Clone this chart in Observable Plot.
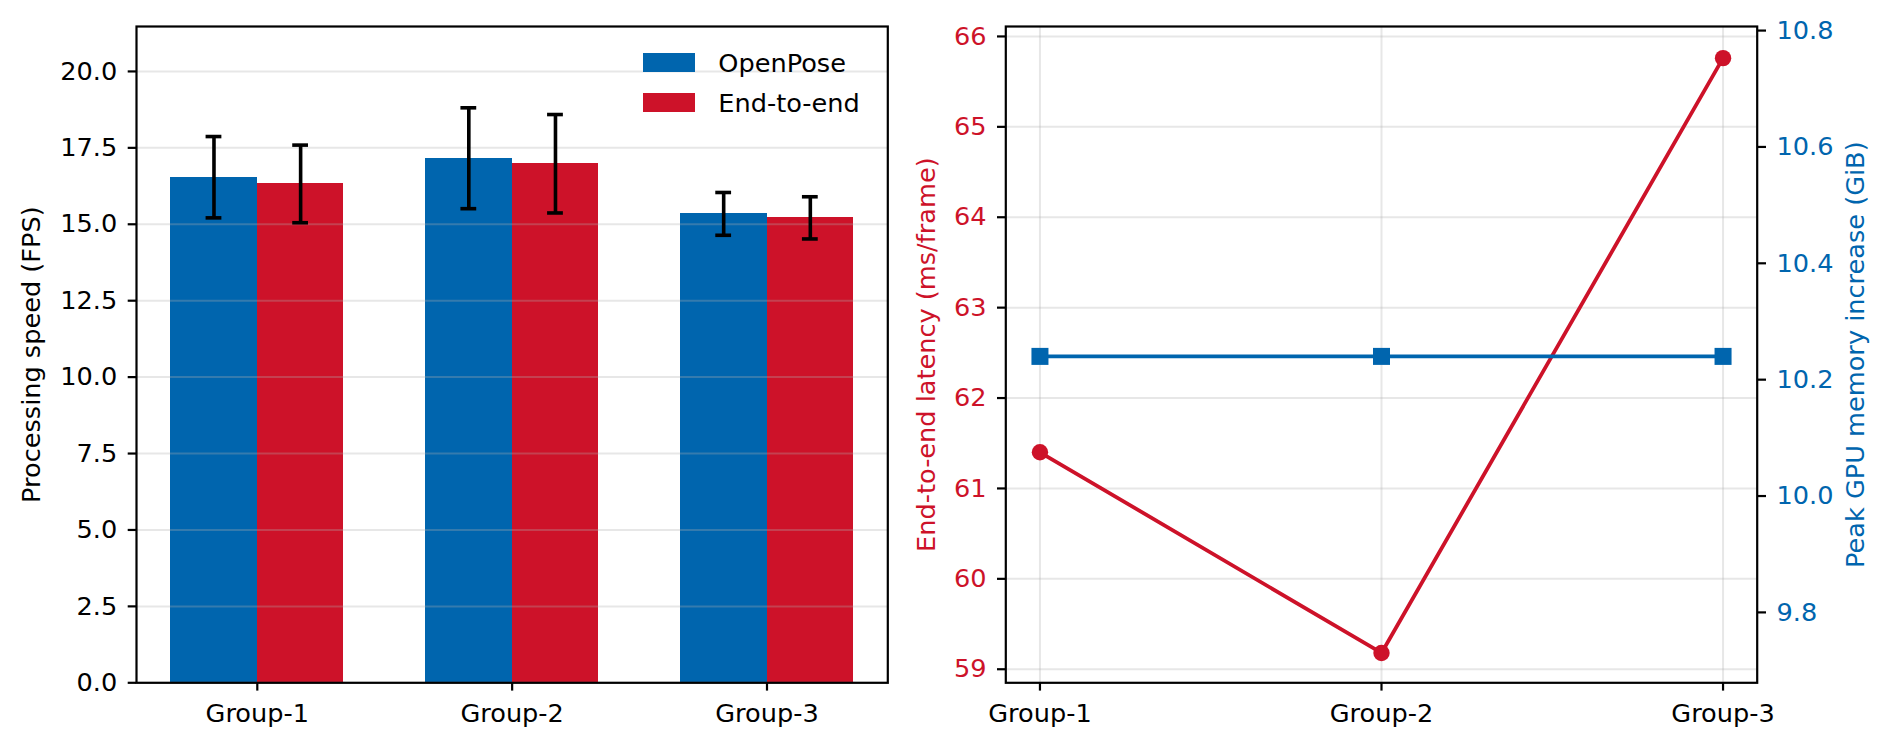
<!DOCTYPE html>
<html>
<head>
<meta charset="utf-8">
<script src="https://cdn.jsdelivr.net/npm/d3@7"></script>
<script src="https://cdn.jsdelivr.net/npm/@observablehq/plot@0.6"></script>
<style>
  body { margin: 0; background: #fff; }
  #wrap { position: relative; width: 1892px; height: 748px; font-family: "DejaVu Sans", sans-serif; overflow: hidden; }
  #wrap svg { position: absolute; top: 0; overflow: visible; }
  .legrow { position: absolute; display: flex; align-items: center; height: 30px; font-size: 25.6px; color: #000; white-space: nowrap; }
  .legrow .sw { width: 52px; height: 18.4px; margin-right: 23px; }
</style>
</head>
<body>
<div id="wrap"></div>
<script>
// ---- data ----
const groups = ["Group-1", "Group-2", "Group-3"];
const series = ["OpenPose", "End-to-end"];
const openposeFps = [16.54, 17.16, 15.34];
const openposeErr = [1.33, 1.65, 0.70];
const e2eFps = [16.32, 16.98, 15.21];
const e2eErr = [1.27, 1.61, 0.69];
const latency = [61.40, 59.18, 65.76];
const gpuMem = [10.24, 10.24, 10.24];
const fpsTicks = [0, 2.5, 5, 7.5, 10, 12.5, 15, 17.5, 20];
const latTicks = [59, 60, 61, 62, 63, 64, 65, 66];
const memTicks = [9.8, 10.0, 10.2, 10.4, 10.6, 10.8];
const fpsLabel = "Processing speed (FPS)";
const latLabel = "End-to-end latency (ms/frame)";
const memLabel = "Peak GPU memory increase (GiB)";

// ---- style ----
const BLUE = "#0065ae";
const RED = "#cd1229";
const GRID = { stroke: "#b0b0b0", strokeOpacity: 0.3, strokeWidth: 2 };
const FS = 25.6;
const BW = 0.34, CAP = 0.031;
const styleBase = { fontFamily: "DejaVu Sans", fontSize: FS + "px", background: "transparent", overflow: "visible" };

const rows = [];
groups.forEach((g, i) => {
  rows.push({ gi: i, si: 0, series: series[0], value: openposeFps[i], err: openposeErr[i] });
  rows.push({ gi: i, si: 1, series: series[1], value: e2eFps[i], err: e2eErr[i] });
});
const cx = d => d.gi + (d.si - 0.5) * BW;
const idx = [0, 1, 2];

const leftPlot = Plot.plot({
  width: 900, height: 748,
  marginLeft: 136, marginRight: 12.7, marginTop: 26, marginBottom: 65.7,
  style: styleBase,
  x: { domain: [-0.474, 2.474], axis: null },
  y: { domain: [0, 21.47], axis: null },
  color: { domain: series, range: [BLUE, RED] },
  marks: [
    Plot.rect(rows, { x1: d => d.gi + (d.si - 1) * BW, x2: d => d.gi + d.si * BW, y1: 0, y2: "value", fill: "series", shapeRendering: "crispEdges" }),
    Plot.gridY(fpsTicks, GRID),
    Plot.ruleX(rows, { x: cx, y1: d => d.value - d.err, y2: d => d.value + d.err, stroke: "black", strokeWidth: 3.6 }),
    Plot.ruleY(rows, { y: d => d.value + d.err, x1: d => cx(d) - CAP, x2: d => cx(d) + CAP, stroke: "black", strokeWidth: 3.6 }),
    Plot.ruleY(rows, { y: d => d.value - d.err, x1: d => cx(d) - CAP, x2: d => cx(d) + CAP, stroke: "black", strokeWidth: 3.6 }),
    Plot.frame({ stroke: "black", strokeWidth: 2.2 }),
    Plot.axisY(fpsTicks, { anchor: "left", tickSize: 8.3, tickPadding: 11, tickFormat: d3.format(".1f"), strokeWidth: 2.2, fontSize: FS, label: null, stroke: "black", fill: "black" }),
    Plot.axisX(idx, { anchor: "bottom", tickSize: 8.3, tickPadding: 13, tickFormat: i => groups[i], strokeWidth: 2.2, fontSize: FS, label: null, stroke: "black", fill: "black" }),
    Plot.text([fpsLabel], { text: d => d, frameAnchor: "left", dx: -104.3, rotate: -90, fontSize: FS, textAnchor: "middle", lineAnchor: "middle", fill: "black" })
  ]
});
leftPlot.style.left = "0px";

const latRows = latency.map((v, i) => ({ gi: i, v }));
const memRows = gpuMem.map((v, i) => ({ gi: i, v }));

const rightA = Plot.plot({
  width: 992, height: 748,
  marginLeft: 105.3, marginRight: 135.3, marginTop: 26, marginBottom: 65.7,
  style: styleBase,
  x: { domain: [-0.1, 2.1], axis: null },
  y: { domain: [58.85, 66.11], axis: null },
  marks: [
    Plot.gridX(idx, GRID),
    Plot.gridY(latTicks, GRID),
    Plot.frame({ stroke: "black", strokeWidth: 2.2 }),
    Plot.axisY(latTicks, { anchor: "left", tickSize: 8.3, tickPadding: 11, tickFormat: d3.format("d"), strokeWidth: 2.2, fontSize: FS, label: null, stroke: "black", fill: RED }),
    Plot.axisX(idx, { anchor: "bottom", tickSize: 8.3, tickPadding: 13, tickFormat: i => groups[i], strokeWidth: 2.2, fontSize: FS, label: null, stroke: "black", fill: "black" }),
    Plot.line(latRows, { x: "gi", y: "v", stroke: RED, strokeWidth: 3.8 }),
    Plot.dot(latRows, { x: "gi", y: "v", r: 8.2, fill: RED, stroke: "none" }),
    Plot.text([latLabel], { text: d => d, frameAnchor: "left", dx: -79.3, rotate: -90, fontSize: FS, textAnchor: "middle", lineAnchor: "middle", fill: RED })
  ]
});
rightA.style.left = "900px";

const rightB = Plot.plot({
  width: 992, height: 748,
  marginLeft: 105.3, marginRight: 135.3, marginTop: 26, marginBottom: 65.7,
  style: styleBase,
  x: { domain: [-0.1, 2.1], axis: null },
  y: { domain: [9.679, 10.807], axis: null },
  marks: [
    Plot.line(memRows, { x: "gi", y: "v", stroke: BLUE, strokeWidth: 3.8 }),
    Plot.dot(memRows, { x: "gi", y: "v", symbol: "square", r: 9.6, fill: BLUE, stroke: "none" }),
    Plot.axisY(memTicks, { anchor: "right", tickSize: 8.3, tickPadding: 11, tickFormat: d3.format(".1f"), strokeWidth: 2.2, fontSize: FS, label: null, stroke: "black", fill: BLUE }),
    Plot.text([memLabel], { text: d => d, frameAnchor: "right", dx: 98.3, rotate: -90, fontSize: FS, textAnchor: "middle", lineAnchor: "middle", fill: BLUE })
  ]
});
rightB.style.left = "900px";

const wrap = document.getElementById("wrap");
wrap.appendChild(leftPlot);
wrap.appendChild(rightA);
wrap.appendChild(rightB);

// legend
[[series[0], BLUE, 62.5], [series[1], RED, 102.5]].forEach(([name, col, cy]) => {
  const row = document.createElement("div");
  row.className = "legrow";
  row.style.left = "643.3px";
  row.style.top = (cy - 15) + "px";
  const sw = document.createElement("div");
  sw.className = "sw";
  sw.style.background = col;
  const tx = document.createElement("span");
  tx.textContent = name;
  row.appendChild(sw);
  row.appendChild(tx);
  wrap.appendChild(row);
});
</script>
</body>
</html>
